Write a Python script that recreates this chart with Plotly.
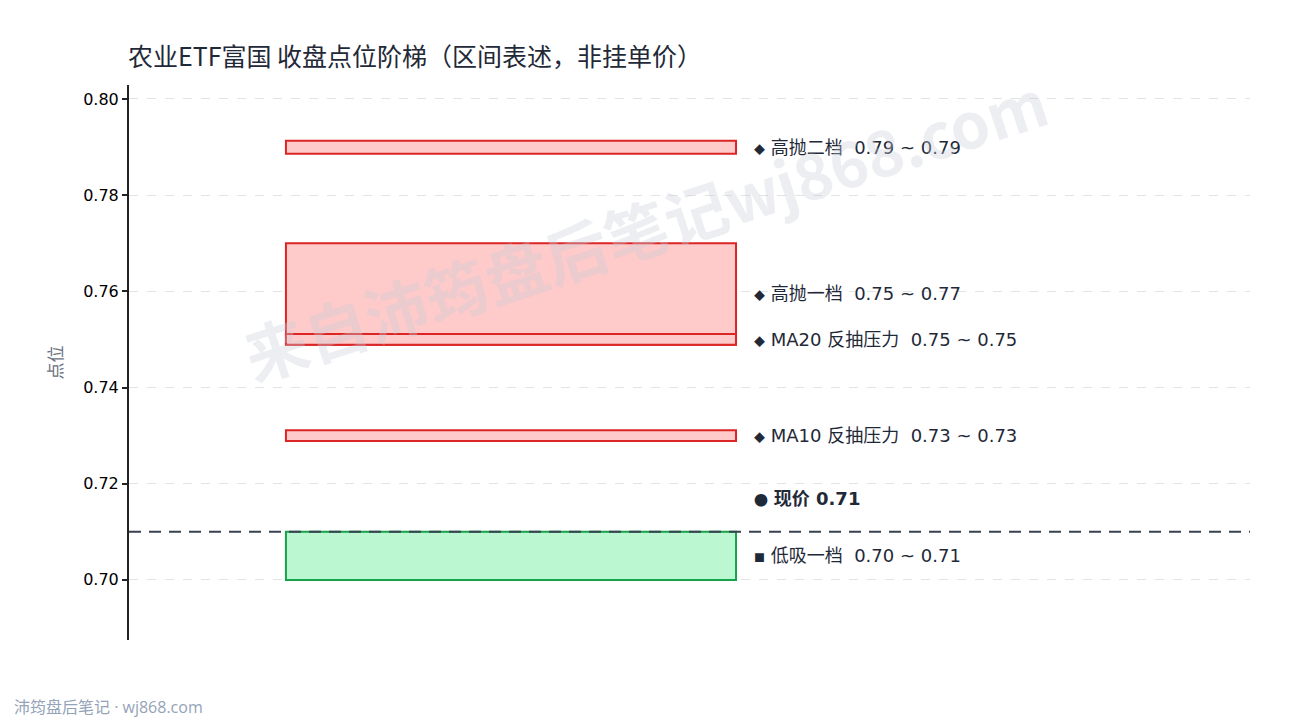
import plotly.graph_objects as go

# 区间数据（下沿 / 上沿）
band_names = ["高抛二档", "高抛一档", "MA20 反抽压力", "MA10 反抽压力", "低吸一档"]
band_low = [0.7886, 0.7489, 0.7489, 0.7289, 0.7000]
band_high = [0.7913, 0.7700, 0.7511, 0.7311, 0.7100]
band_kind = ["sell", "sell", "sell", "sell", "buy"]

current_price = 0.71
y_ticks = [0.70, 0.72, 0.74, 0.76, 0.78, 0.80]

FONT = "DejaVu Sans, Noto Sans CJK SC, sans-serif"
CJK = "Noto Sans CJK SC, sans-serif"

fig = go.Figure()

# 隐形的点，用来撑起坐标轴
fig.add_trace(go.Scatter(x=[0, 1], y=[0.70, 0.80], mode="markers",
                         marker=dict(opacity=0), hoverinfo="skip", showlegend=False))

for name, lo, hi, kind in zip(band_names, band_low, band_high, band_kind):
    if kind == "sell":
        line_c, fill_c, mark = "#dc2626", "#ffcaca", "◆"
    else:
        line_c, fill_c, mark = "#16a34a", "#bbf7d0", "■"
    fig.add_shape(type="rect", xref="x", yref="y", x0=0.14, x1=0.5415, y0=lo, y1=hi,
                  line=dict(color=line_c, width=2), fillcolor=fill_c, layer="above")
    fig.add_annotation(x=0.556, y=(lo + hi) / 2, xref="x", yref="y",
                       text=(f"<span style='font-size:11px;font-family:Noto Sans CJK SC'>{mark}</span>"
                             f" {name}&nbsp;&nbsp;{lo:.2f} ~ {hi:.2f}"),
                       showarrow=False, xanchor="left", yanchor="middle",
                       font=dict(size=18, color="#1f2937", family=FONT))

# 现价虚线
fig.add_shape(type="line", xref="paper", yref="y", x0=0, x1=1, y0=current_price, y1=current_price,
              line=dict(color="#374151", width=2, dash="12px,8px"), layer="above")
fig.add_annotation(x=0.556, y=current_price + 0.007, xref="x", yref="y",
                   text=(f"<span style='font-size:14px;font-family:Noto Sans CJK SC'>●</span>"
                         f" <b>现价 {current_price:.2f}</b>"),
                   showarrow=False, xanchor="left", yanchor="middle",
                   font=dict(size=18, color="#1f2937", family=FONT))

# 水印
fig.add_annotation(x=0.46, y=0.745, xref="paper", yref="paper", xanchor="center", yanchor="middle",
                   text="<b>来自沛筠盘后笔记wj868.com</b>", showarrow=False, textangle=-18,
                   font=dict(size=63, color="rgba(200,205,218,0.34)", family=CJK))

# 页脚
fig.add_annotation(x=(12 - 129) / 1121, y=(640 - 707) / 555, xref="paper", yref="paper",
                   text="沛筠盘后笔记 · wj868.com", showarrow=False,
                   xanchor="left", yanchor="middle",
                   font=dict(size=16, color="#94a3b8", family="Open Sans, Noto Sans CJK SC, sans-serif"))

# 页面自带 8px 边距，整体尺寸相应收一点
fig.update_layout(
    width=1282, height=712,
    margin=dict(l=121, r=40, t=77, b=80, autoexpand=False),
    paper_bgcolor="white", plot_bgcolor="white",
    title=dict(text="农业ETF富国 收盘点位阶梯（区间表述，非挂单价）",
               x=120 / 1282, xanchor="left", y=1 - 49 / 712, yanchor="middle",
               font=dict(size=25, color="#1f2937", family=CJK)),
    xaxis=dict(range=[0, 1], visible=False, fixedrange=True),
    yaxis=dict(range=[0.6875, 0.8029], tickvals=y_ticks, ticktext=[f"{v:.2f}" for v in y_ticks],
               showline=True, linecolor="#222222", linewidth=2,
               ticks="outside", ticklen=5, tickcolor="#222222", tickwidth=2,
               showgrid=True, gridcolor="#e3e3e3", griddash="dash", gridwidth=1,
               zeroline=False,
               tickfont=dict(size=16, color="#000000", family=FONT),
               title=dict(text="点位", font=dict(size=17, color="#6b7280", family=CJK), standoff=16)),
    showlegend=False,
)

fig.write_html("out.html")
